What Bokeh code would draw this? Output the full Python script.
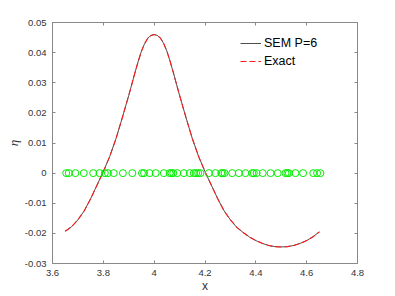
from bokeh.plotting import figure
from bokeh.models import (Range1d, LinearAxis, FixedTicker, Legend, LegendItem,
                          CustomJSTickFormatter)
from bokeh.embed import file_html
from bokeh.resources import INLINE

# curve samples
x_curve = [3.65, 3.675, 3.70, 3.725, 3.75, 3.775, 3.80, 3.825, 3.85, 3.875, 3.90,
           3.925, 3.9375, 3.95, 3.9625, 3.975, 3.9875, 4.00, 4.0125, 4.025, 4.0375,
           4.05, 4.0625, 4.075, 4.10, 4.125, 4.15, 4.175,
           4.20, 4.225, 4.25, 4.275, 4.30, 4.325, 4.35, 4.375, 4.40, 4.425, 4.45,
           4.475, 4.50, 4.525, 4.55, 4.575, 4.60, 4.625, 4.65]
eta_sem = [-0.0193, -0.0178, -0.0155, -0.0125, -0.0085, -0.0040, 0.0005, 0.0055,
           0.0115, 0.0185, 0.0258, 0.0335, 0.0372, 0.0405, 0.0430, 0.0448, 0.0457,
           0.0460, 0.0457, 0.0448, 0.0430, 0.0405, 0.0372,
           0.0335, 0.0258, 0.0185, 0.0115, 0.0055, 0.0005, -0.0040, -0.0085,
           -0.0125, -0.0155, -0.0180, -0.0197, -0.0212, -0.0224, -0.0233, -0.0240,
           -0.0244, -0.0245, -0.0244, -0.0240, -0.0233, -0.0224, -0.0211, -0.0195]
eta_exact = list(eta_sem)

# node positions (green circles) at eta = 0
x_nodes = [3.654, 3.664, 3.690, 3.723, 3.760, 3.785, 3.806, 3.818, 3.841, 3.877,
           3.914, 3.952, 3.960, 3.982, 4.006, 4.038, 4.061, 4.068, 4.075, 4.091,
           4.117, 4.140, 4.156, 4.165, 4.173, 4.182, 4.215, 4.241, 4.264, 4.270,
           4.277, 4.307, 4.333, 4.359, 4.386, 4.392, 4.403, 4.427, 4.458, 4.486,
           4.517, 4.524, 4.530, 4.556, 4.586, 4.626, 4.641, 4.654]
y_nodes = [0.0] * len(x_nodes)

x_ticks = [3.6, 3.8, 4.0, 4.2, 4.4, 4.6, 4.8]
x_tick_labels = ["3.6", "3.8", "4", "4.2", "4.4", "4.6", "4.8"]
y_ticks = [-0.03, -0.02, -0.01, 0.0, 0.01, 0.02, 0.03, 0.04, 0.05]
y_tick_labels = ["-0.03", "-0.02", "-0.01", "0", "0.01", "0.02", "0.03", "0.04", "0.05"]

FONT = "Liberation Sans"
AX = "#888888"
LBL = "#333333"

FW, FH = 305, 241
p = figure(width=395, height=296, output_backend="svg", toolbar_location=None,
           x_range=Range1d(3.6, 4.8), y_range=Range1d(-0.03, 0.05),
           min_border_left=52, min_border_right=38, min_border_top=22,
           min_border_bottom=33, x_axis_location=None, y_axis_location=None)
p.grid.visible = False
p.outline_line_color = None
p.background_fill_color = "white"
p.border_fill_color = "white"


def style(ax, ticks, labels, show):
    ax.ticker = FixedTicker(ticks=ticks)
    ax.axis_line_color = AX
    ax.major_tick_line_color = AX
    ax.minor_tick_line_color = None
    ax.major_tick_in = 3
    ax.major_tick_out = 0
    ax.major_label_text_font = FONT
    ax.major_label_text_color = LBL
    if show:
        ax.major_label_overrides = {t: l for t, l in zip(ticks, labels)}
        ax.major_label_text_font_size = "9.5px"
    else:
        ax.formatter = CustomJSTickFormatter(code="return ''")
        ax.major_label_text_font_size = "1px"
        ax.major_label_standoff = 0


xb = LinearAxis(axis_label="x")
style(xb, x_ticks, x_tick_labels, True)
xb.major_label_standoff = 6
xb.axis_label_standoff = 0
xb.axis_label_text_font = FONT
xb.axis_label_text_font_style = "normal"
xb.axis_label_text_font_size = "12px"
xb.axis_label_text_color = LBL
p.add_layout(xb, "below")

yl = LinearAxis(axis_label="η")
style(yl, y_ticks, y_tick_labels, True)
yl.major_label_standoff = 6
yl.axis_label_standoff = 1
yl.axis_label_text_font = "Liberation Serif"
yl.axis_label_text_font_style = "italic"
yl.axis_label_text_font_size = "13px"
yl.axis_label_text_color = LBL
p.add_layout(yl, "left")

xt = LinearAxis()
style(xt, x_ticks, x_tick_labels, False)
p.add_layout(xt, "above")

yr = LinearAxis()
style(yr, y_ticks, y_tick_labels, False)
p.add_layout(yr, "right")

r_sem = p.line(x_curve, eta_sem, line_color="#222222", line_width=0.8)
r_exact = p.line(x_curve, eta_exact, line_color="#ff1a1a", line_width=1.1,
                 line_dash="6 3")
p.scatter(x_nodes, y_nodes, marker="circle", size=7, fill_color=None,
          line_color="#00ee00", line_width=1)

legend = Legend(items=[LegendItem(label="SEM P=6", renderers=[r_sem]),
                       LegendItem(label="Exact", renderers=[r_exact])],
                location=(188, FH - 12 - 36), border_line_color=None,
                background_fill_alpha=0, padding=0, margin=0, spacing=0,
                glyph_width=21, glyph_height=18, label_height=18,
                label_standoff=3, label_text_font=FONT,
                label_text_font_size="12.5px", label_text_color="black")
p.add_layout(legend, "center")

open("out.html", "w").write(file_html(p, INLINE))
